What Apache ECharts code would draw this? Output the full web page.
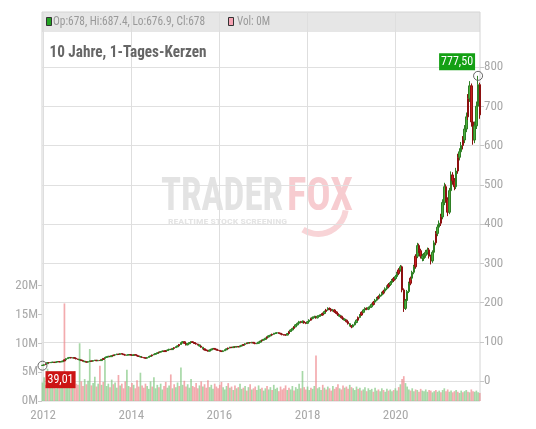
<!DOCTYPE html>
<html>
<head>
<meta charset="utf-8">
<script src="https://cdn.jsdelivr.net/npm/echarts@6/dist/echarts.min.js"></script>
<style>
html, body { margin: 0; padding: 0; background: #fff; }
#chart { width: 536px; height: 429px; }
</style>
</head>
<body>
<div id="chart"></div>
<script>
// Zeitachse: Zwei-Wochen-Kerzen ab startDate
const startDate = '2011-12-26';
const stepDays = 14;
const axisStart = '2011-12-22';
const axisEnd = '2021-12-01';
const yearTicks = ['2012-01-01', '2014-01-01', '2016-01-01', '2018-01-01', '2020-01-01'];

// [open, close, low, high]
const candles = [
  [39.5, 40.2, 39.01, 40.9], [40.2, 41.5, 39.8, 42.2], [44.0, 41.5, 41.2, 44.6], [44.0, 47.0, 43.6, 47.5],
  [47.0, 46.5, 45.8, 47.9], [46.5, 47.5, 46.0, 48.2], [47.5, 48.0, 46.9, 48.8], [48.0, 47.0, 46.4, 48.6],
  [47.0, 48.5, 46.7, 49.1], [48.5, 49.5, 48.0, 50.2], [49.5, 48.5, 47.8, 50.0], [48.5, 49.0, 47.9, 49.8],
  [49.0, 51.0, 48.6, 51.7], [54.0, 51.0, 50.6, 54.6], [54.0, 57.0, 53.5, 57.8], [57.0, 59.0, 56.4, 59.9],
  [59.0, 60.0, 58.2, 60.9], [60.0, 58.5, 57.8, 60.6], [58.5, 59.5, 57.9, 60.3], [59.5, 58.0, 57.2, 60.1],
  [58.0, 56.0, 55.4, 58.5], [56.0, 55.0, 54.3, 56.7], [53.5, 55.0, 52.8, 55.6], [53.5, 52.0, 51.3, 54.1],
  [52.0, 50.5, 49.8, 52.6], [49.0, 50.5, 48.3, 51.0], [49.0, 48.0, 47.2, 49.6], [48.0, 49.5, 47.6, 50.1],
  [49.5, 51.0, 49.0, 51.7], [51.0, 50.5, 49.8, 51.6], [50.5, 52.0, 50.0, 52.7], [52.0, 53.0, 51.4, 53.8],
  [53.0, 51.5, 50.8, 53.4], [51.5, 52.5, 51.0, 53.2], [52.5, 52.0, 51.3, 53.1], [52.0, 55.0, 51.6, 55.6],
  [57.5, 55.0, 54.5, 58.2], [57.5, 60.0, 57.0, 60.8], [60.0, 61.5, 59.3, 62.3], [61.5, 63.0, 60.8, 63.9],
  [63.0, 62.0, 61.2, 63.7], [62.0, 64.5, 61.6, 65.2], [66.0, 64.5, 63.8, 66.9], [66.0, 67.0, 65.2, 67.9],
  [67.0, 68.5, 66.3, 69.4], [68.5, 67.5, 66.6, 69.2], [67.5, 70.0, 67.0, 70.9], [70.0, 68.5, 67.6, 70.6],
  [68.5, 67.0, 66.1, 69.0], [67.0, 65.5, 64.6, 67.6], [65.5, 66.0, 64.8, 66.9], [66.0, 67.5, 65.4, 68.3],
  [67.5, 66.0, 65.2, 68.0], [66.0, 65.0, 64.1, 66.7], [65.0, 67.0, 64.5, 67.8], [67.0, 66.0, 65.1, 67.6],
  [66.0, 64.0, 63.2, 66.5], [64.0, 62.5, 61.7, 64.6], [61.0, 62.5, 60.2, 63.1], [61.0, 60.0, 59.1, 61.7],
  [60.0, 59.0, 58.1, 60.6], [59.0, 58.0, 57.2, 59.7], [58.0, 60.0, 57.5, 60.8], [60.0, 62.5, 59.6, 63.3],
  [62.5, 64.0, 61.9, 64.9], [66.5, 64.0, 63.5, 67.2], [66.5, 68.0, 65.8, 68.9], [68.0, 70.0, 67.4, 70.9],
  [70.0, 72.0, 69.3, 72.9], [73.5, 72.0, 71.2, 74.5], [73.5, 75.0, 72.8, 76.0], [75.0, 76.5, 74.2, 77.5],
  [76.5, 75.0, 74.1, 77.2], [77.5, 75.0, 74.4, 78.4], [77.5, 79.0, 76.8, 80.1], [79.0, 81.0, 78.2, 82.0],
  [81.0, 80.0, 78.9, 81.9], [80.0, 83.0, 79.4, 84.0], [85.0, 83.0, 82.2, 86.1], [85.0, 87.0, 84.1, 88.2],
  [87.0, 89.5, 86.2, 90.7], [93.0, 89.5, 88.7, 94.3], [93.0, 97.0, 92.2, 98.4], [97.0, 100.0, 96.1, 101.6],
  [100.0, 96.0, 94.8, 101.2], [96.0, 92.0, 90.7, 96.9], [92.0, 95.0, 91.1, 96.2], [95.0, 98.0, 94.0, 99.3],
  [98.0, 100.0, 97.0, 101.4], [100.0, 98.0, 96.8, 101.0], [98.0, 95.5, 94.3, 98.9], [95.5, 94.0, 92.8, 96.4],
  [94.0, 92.0, 90.8, 94.9], [89.0, 92.0, 87.8, 92.8], [89.0, 86.0, 84.8, 89.8], [82.0, 86.0, 80.8, 86.9],
  [82.0, 79.0, 77.9, 82.8], [79.0, 77.5, 76.3, 79.9], [77.5, 76.0, 74.9, 78.3], [76.0, 79.0, 75.2, 79.9],
  [79.0, 81.5, 78.2, 82.4], [81.5, 83.0, 80.6, 84.0], [83.0, 81.0, 79.9, 83.8], [81.0, 79.0, 77.9, 81.7],
  [79.0, 78.0, 76.9, 79.8], [78.0, 76.5, 75.4, 78.7], [76.5, 75.0, 73.9, 77.3], [75.0, 77.0, 74.2, 77.9],
  [77.0, 79.5, 76.3, 80.4], [79.5, 82.0, 78.7, 82.9], [84.0, 82.0, 81.2, 85.0], [84.0, 86.0, 83.1, 87.1],
  [86.0, 85.0, 83.9, 86.9], [85.0, 87.0, 84.2, 88.0], [87.0, 86.5, 85.4, 87.9], [86.5, 88.0, 85.7, 89.1],
  [88.0, 87.0, 85.9, 88.9], [87.0, 89.0, 86.2, 90.1], [89.0, 91.0, 88.1, 92.1], [93.0, 91.0, 90.0, 94.2],
  [93.0, 95.0, 92.1, 96.2], [96.5, 95.0, 94.0, 97.7], [96.5, 98.0, 95.4, 99.3], [98.0, 97.0, 95.8, 99.0],
  [97.0, 98.5, 96.1, 99.7], [98.5, 96.5, 95.3, 99.4], [96.5, 95.0, 93.8, 97.4], [95.0, 96.0, 94.0, 97.1],
  [96.0, 99.0, 95.2, 100.2], [99.0, 102.0, 98.1, 103.3], [104.0, 102.0, 101.0, 105.3], [104.0, 106.0, 103.0, 107.4],
  [106.0, 109.0, 105.1, 110.4], [112.0, 109.0, 108.0, 113.5], [112.0, 115.0, 111.0, 116.6], [115.0, 117.0, 113.9, 118.6],
  [119.0, 117.0, 115.9, 120.6], [119.0, 121.0, 117.8, 122.7], [121.0, 122.0, 119.6, 123.7], [122.0, 123.0, 120.5, 124.8],
  [123.0, 121.5, 120.0, 124.4], [121.5, 120.0, 118.4, 122.6], [120.0, 118.0, 116.5, 121.0], [118.0, 117.5, 115.9, 119.3],
  [117.5, 117.0, 115.4, 118.8], [117.0, 121.0, 116.2, 122.4], [126.0, 121.0, 120.1, 127.6], [126.0, 130.0, 125.0, 131.7],
  [130.0, 134.0, 128.9, 135.8], [138.0, 134.0, 132.8, 139.9], [138.0, 143.0, 136.8, 145.0], [143.0, 147.0, 141.6, 149.1],
  [147.0, 151.0, 145.5, 153.2], [151.0, 149.0, 147.0, 153.0], [149.0, 152.0, 147.2, 154.3], [152.0, 148.0, 146.0, 153.8],
  [148.0, 147.0, 144.9, 150.1], [147.0, 151.0, 145.6, 152.9], [151.0, 155.0, 149.5, 157.2], [159.0, 155.0, 153.4, 161.3],
  [159.0, 162.0, 157.2, 164.3], [162.0, 164.0, 160.1, 166.4], [164.0, 161.0, 158.8, 166.0], [161.0, 165.0, 159.3, 167.4],
  [165.0, 167.0, 163.0, 169.5], [167.0, 168.0, 164.6, 170.6], [172.0, 168.0, 166.3, 174.5], [172.0, 177.0, 170.2, 179.6],
  [181.0, 177.0, 175.1, 183.7], [181.0, 185.0, 179.0, 187.8], [185.0, 183.0, 180.5, 187.4], [183.0, 179.0, 176.6, 184.8],
  [179.0, 181.0, 176.9, 183.6], [181.0, 176.0, 173.6, 182.9], [176.0, 172.0, 169.6, 177.8], [172.0, 168.0, 165.7, 173.8],
  [165.0, 168.0, 162.7, 169.8], [165.0, 161.0, 158.8, 166.7], [161.0, 158.0, 155.8, 162.7], [155.0, 158.0, 152.8, 159.6],
  [155.0, 151.0, 148.9, 156.6], [151.0, 146.0, 143.9, 152.6], [141.0, 146.0, 139.0, 147.6], [141.0, 138.0, 134.5, 142.6],
  [138.0, 143.0, 136.5, 144.9], [143.0, 149.0, 141.3, 151.0], [149.0, 155.0, 147.2, 157.1], [162.0, 155.0, 153.0, 164.3],
  [162.0, 168.0, 159.9, 170.4], [175.0, 168.0, 165.8, 177.5], [175.0, 181.0, 172.6, 183.6], [181.0, 185.0, 178.6, 187.8],
  [185.0, 183.0, 180.4, 187.6], [183.0, 187.0, 180.6, 189.8], [187.0, 189.0, 184.5, 191.9], [189.0, 195.0, 186.4, 197.9],
  [201.0, 195.0, 192.3, 204.0], [201.0, 206.0, 198.2, 209.1], [206.0, 211.0, 203.0, 214.2], [215.0, 211.0, 207.9, 218.3],
  [215.0, 219.0, 211.8, 222.4], [219.0, 224.0, 215.8, 227.4], [229.0, 224.0, 220.6, 232.5], [229.0, 235.0, 225.5, 238.6],
  [235.0, 240.0, 231.4, 243.7], [246.0, 240.0, 236.3, 249.8], [246.0, 251.0, 242.2, 254.9], [251.0, 256.0, 247.1, 260.0],
  [261.0, 256.0, 252.0, 265.1], [261.0, 266.0, 256.9, 270.2], [266.0, 274.0, 261.8, 278.3], [283.0, 274.0, 269.6, 287.5],
  [283.0, 291.0, 278.5, 295.6], [291.0, 232.0, 226.0, 294.0], [232.0, 185.0, 176.0, 236.0], [185.0, 205.0, 181.0, 209.0],
  [205.0, 228.0, 201.0, 232.0], [228.0, 249.0, 224.0, 253.0], [262.0, 249.0, 244.0, 266.0], [262.0, 277.0, 257.0, 281.0],
  [277.0, 291.0, 272.0, 296.0], [318.0, 291.0, 286.0, 323.0], [318.0, 345.0, 313.0, 352.0], [345.0, 332.0, 326.0, 350.0],
  [332.0, 318.0, 312.0, 337.0], [312.0, 318.0, 305.0, 324.0], [312.0, 320.0, 306.0, 326.0], [320.0, 328.0, 314.0, 334.0],
  [328.0, 334.0, 322.0, 340.0], [334.0, 318.0, 312.0, 339.0], [318.0, 306.0, 297.0, 322.0], [306.0, 328.0, 301.0, 333.0],
  [328.0, 352.0, 323.0, 358.0], [376.0, 352.0, 346.0, 382.0], [376.0, 392.0, 369.0, 399.0], [392.0, 402.0, 384.0, 409.0],
  [418.0, 402.0, 395.0, 426.0], [418.0, 455.0, 412.0, 463.0], [455.0, 495.0, 448.0, 505.0], [495.0, 462.0, 455.0, 501.0],
  [462.0, 430.0, 420.0, 468.0], [430.0, 485.0, 425.0, 492.0], [485.0, 525.0, 478.0, 534.0], [525.0, 510.0, 500.0, 532.0],
  [510.0, 495.0, 486.0, 517.0], [495.0, 535.0, 489.0, 543.0], [570.0, 535.0, 528.0, 579.0], [570.0, 584.0, 562.0, 593.0],
  [584.0, 600.0, 575.0, 609.0], [614.0, 600.0, 590.0, 624.0], [614.0, 642.0, 606.0, 652.0], [642.0, 673.0, 634.0, 684.0],
  [720.0, 673.0, 665.0, 731.0], [720.0, 752.0, 711.0, 764.0], [752.0, 660.0, 648.0, 758.0], [660.0, 614.0, 602.0, 668.0],
  [614.0, 650.0, 606.0, 661.0], [650.0, 700.0, 642.0, 712.0], [700.0, 755.0, 692.0, 777.5], [755.0, 678.0, 668.0, 760.0]
];

// Volumen in Mio. Stück
const volumes = [
  3.2, 4.1, 2.8, 5.6, 3.0, 2.5, 4.4, 3.1, 2.2, 3.6, 2.7, 3.3, 4.8, 16.9, 3.9, 2.6, 3.1, 4.0, 2.4, 5.2, 3.0, 2.8, 10.0, 3.4, 2.6, 3.8,
  2.9, 3.5, 9.0, 2.7, 3.1, 4.2, 2.5, 3.0, 6.1, 2.8, 3.3, 7.2, 2.6, 3.0, 2.4, 3.7, 2.9, 3.2, 2.3, 4.5, 2.7, 3.0, 2.2, 3.4, 5.4, 2.6,
  2.4, 3.1, 2.8, 2.2, 3.6, 2.5, 4.9, 2.7, 2.3, 3.0, 2.6, 2.1, 3.4, 2.5, 4.1, 2.2, 2.8, 2.4, 3.0, 2.0, 2.6, 3.3, 2.3, 2.7, 4.6, 2.2,
  2.9, 2.4, 3.2, 2.6, 5.8, 2.8, 3.5, 2.5, 2.9, 2.3, 3.8, 2.6, 2.4, 3.1, 2.2, 2.7, 3.4, 2.5, 2.9, 2.3, 3.6, 2.4, 2.8, 2.1, 3.0, 2.5,
  2.2, 2.8, 3.3, 2.4, 2.0, 2.6, 3.1, 2.3, 2.5, 1.9, 2.7, 2.2, 2.4, 3.0, 2.1, 2.3, 2.6, 1.8, 2.4, 2.9, 2.0, 2.2, 2.5, 1.9, 2.7, 2.1,
  2.3, 1.8, 2.2, 2.6, 2.0, 2.4, 1.9, 2.8, 2.1, 2.3, 1.7, 2.5, 2.0, 2.2, 2.7, 1.9, 2.3, 2.0, 2.6, 1.8, 2.4, 2.1, 3.0, 2.2, 5.2, 2.4,
  2.0, 2.5, 1.9, 2.3, 2.1, 2.6, 7.9, 2.2, 2.4, 1.9, 2.8, 2.3, 2.0, 2.5, 2.2, 1.8, 2.6, 2.1, 2.4, 2.9, 2.2, 2.0, 2.7, 2.3, 2.5, 2.1,
  2.8, 2.4, 2.2, 1.9, 2.5, 2.1, 2.3, 1.8, 2.0, 2.4, 1.7, 2.2, 1.9, 2.1, 1.6, 2.3, 1.8, 2.0, 1.7, 2.2, 1.9, 1.6, 2.1, 1.8, 2.0, 1.7,
  1.9, 2.2, 1.8, 2.4, 2.9, 3.8, 4.3, 3.1, 2.5, 2.0, 1.8, 2.2, 1.7, 2.0, 1.9, 1.6, 2.1, 1.8, 1.7, 2.0, 1.6, 1.9, 1.8, 1.5, 1.7, 1.9,
  1.6, 1.8, 1.5, 1.9, 2.2, 1.7, 2.0, 1.6, 1.8, 1.5, 1.7, 1.9, 1.6, 1.4, 1.8, 1.5, 1.7, 1.9, 1.6, 1.5, 2.0, 1.7, 1.6, 1.8, 1.5, 1.4
];

const legendText = 'Op:678, Hi:687.4, Lo:676.9, Cl:678';
const volText = 'Vol: 0M';
const titleText = '10 Jahre, 1-Tages-Kerzen';

const FONT = "'Roboto Condensed', 'DejaVu Sans Condensed', sans-serif";
const DAY = 86400000;
const toMs = s => Date.parse(s + 'T00:00:00');
const t0 = toMs(startDate);
const dates = candles.map((c, i) => t0 + i * stepDays * DAY);
const xMin = toMs(axisStart), xMax = toMs(axisEnd);
const yearTickMs = yearTicks.map(toMs);

if (volumes.length !== candles.length) {
    console.error('Längen stimmen nicht:', candles.length, volumes.length);
}

// Extremwerte für die Markierungen
let maxIdx = 0, minIdx = 0;
candles.forEach((c, i) => {
    if (c[3] > candles[maxIdx][3]) maxIdx = i;
    if (c[2] < candles[minIdx][2]) minIdx = i;
});
const fmtDe = v => v.toFixed(2).replace('.', ',');

// Text auf Zielbreite stauchen
const measureCtx = document.createElement('canvas').getContext('2d');
function fitScale(text, font, width) {
    measureCtx.font = font;
    return width / measureCtx.measureText(text).width;
}
function fittedText(text, font, x, y, width, fill, z) {
    return {
        type: 'text', z: z, silent: true, x: x, y: y, scaleX: fitScale(text, font, width),
        style: { text: text, fill: fill, font: font, textVerticalAlign: 'middle' }
    };
}

const GRID_L = 42, GRID_R = 56;
const legendFont = '12px ' + FONT;
const titleFont = 'bold 16px ' + FONT;
const markFont = 'bold 46px ' + FONT;

const chart = echarts.init(document.getElementById('chart'), null, { renderer: 'canvas' });
chart.setOption({
    animation: false,
    backgroundColor: '#fff',
    grid: [
        { left: GRID_L, right: GRID_R, top: 12, bottom: 28, show: true, borderColor: '#d4d4d4', borderWidth: 1, backgroundColor: 'transparent' },
        { left: GRID_L, right: GRID_R, top: 67, bottom: 48 },
        { left: GRID_L, right: GRID_R, top: 285.5, bottom: 28 }
    ],
    xAxis: [
        {
            type: 'value', gridIndex: 0, min: xMin, max: xMax,
            axisLine: { show: false },
            axisTick: { show: false, customValues: yearTickMs },
            axisLabel: {
                customValues: yearTickMs, color: '#a8a8a8', fontFamily: FONT, fontSize: 13, margin: 8,
                formatter: v => String(new Date(v).getFullYear())
            },
            splitLine: { show: true, lineStyle: { color: '#dedede', width: 1 } }
        },
        { type: 'value', gridIndex: 1, min: xMin, max: xMax, show: false, splitLine: { show: false } },
        { type: 'value', gridIndex: 2, min: xMin, max: xMax, show: false, splitLine: { show: false } }
    ],
    yAxis: [
        { type: 'value', gridIndex: 0, show: false, splitLine: { show: false } },
        {
            type: 'value', gridIndex: 1, position: 'right', min: 0, max: 800, interval: 100,
            axisLine: { show: false },
            axisTick: { show: true, length: 4, lineStyle: { color: '#c8c8c8' } },
            axisLabel: { color: '#a8a8a8', fontFamily: FONT, fontSize: 13, margin: 4 },
            splitLine: { show: true, lineStyle: { color: '#e0e0e0', width: 1 } }
        },
        {
            type: 'value', gridIndex: 2, position: 'left', min: 0, max: 20, interval: 5,
            axisLine: { show: false },
            axisTick: { show: true, length: 4, lineStyle: { color: '#c8c8c8' } },
            axisLabel: { color: '#a8a8a8', fontFamily: FONT, fontSize: 13, margin: 4, formatter: v => v + 'M' },
            splitLine: { show: false }
        }
    ],
    graphic: [
        { type: 'rect', z: -10, silent: true, shape: { x: 42, y: 12, width: 438, height: 20 }, style: { fill: '#e6e6e6' } },
        { type: 'rect', z: 10, shape: { x: 46.5, y: 17.5, width: 5, height: 8 }, style: { fill: '#22a322', stroke: '#333', lineWidth: 1 } },
        fittedText(legendText, legendFont, 53, 22, 152, '#999', 10),
        { type: 'rect', z: 10, shape: { x: 228.5, y: 17.5, width: 5, height: 8 }, style: { fill: '#f5a3b3', stroke: '#333', lineWidth: 1 } },
        fittedText(volText, legendFont, 237, 22, 33, '#999', 10),
        fittedText(titleText, titleFont, 49.5, 53, 157, '#666', 10),
        // Wasserzeichen
        fittedText('TRADER', markFont, 161, 198, 122, '#e3e3e3', -5),
        fittedText('FOX', markFont, 287, 198, 66, '#f7ccd0', -5),
        fittedText('REALTIME STOCK SCREENING', 'bold 8px ' + FONT, 168, 222, 119, '#e4e4e4', -5),
        { type: 'arc', z: -5, silent: true, shape: { cx: 318, cy: 206, r: 28, startAngle: 0.05 * Math.PI, endAngle: 0.68 * Math.PI }, style: { stroke: '#f8d4d7', lineWidth: 6, fill: 'none' } }
    ],
    series: [
        {
            type: 'bar', name: 'Vol', xAxisIndex: 2, yAxisIndex: 2, barWidth: 1.7, z: 1,
            data: dates.map((t, i) => ({
                value: [t, volumes[i]],
                itemStyle: { color: candles[i][1] >= candles[i][0] ? 'rgba(130,200,130,0.7)' : 'rgba(238,135,140,0.7)' }
            }))
        },
        {
            type: 'candlestick', name: 'Kurs', xAxisIndex: 1, yAxisIndex: 1, barWidth: 2, z: 3,
            encode: { x: 0, y: [1, 2, 3, 4] },
            data: dates.map((t, i) => [t].concat(candles[i])),
            itemStyle: { color: '#4caf3c', color0: '#c81e1e', borderColor: '#2e7f24', borderColor0: '#8c1010', borderWidth: 1 },
            markPoint: {
                symbol: 'circle', symbolSize: 9,
                itemStyle: { color: 'rgba(255,255,255,0)', borderColor: '#666', borderWidth: 1 },
                data: [
                    {
                        coord: [dates[maxIdx], candles[maxIdx][3]],
                        label: {
                            show: true, formatter: fmtDe(candles[maxIdx][3]), position: 'left', distance: 0, offset: [2, -14],
                            color: '#fff', backgroundColor: '#14a014', padding: [3, 2, 2, 2], fontFamily: FONT, fontSize: 12
                        }
                    },
                    {
                        coord: [dates[minIdx], candles[minIdx][2]],
                        label: {
                            show: true, formatter: fmtDe(candles[minIdx][2]), position: 'right', distance: 0, offset: [-2, 14],
                            color: '#fff', backgroundColor: '#cc1414', padding: [3, 2, 2, 2], fontFamily: FONT, fontSize: 12
                        }
                    }
                ]
            }
        }
    ]
});
</script>
</body>
</html>
